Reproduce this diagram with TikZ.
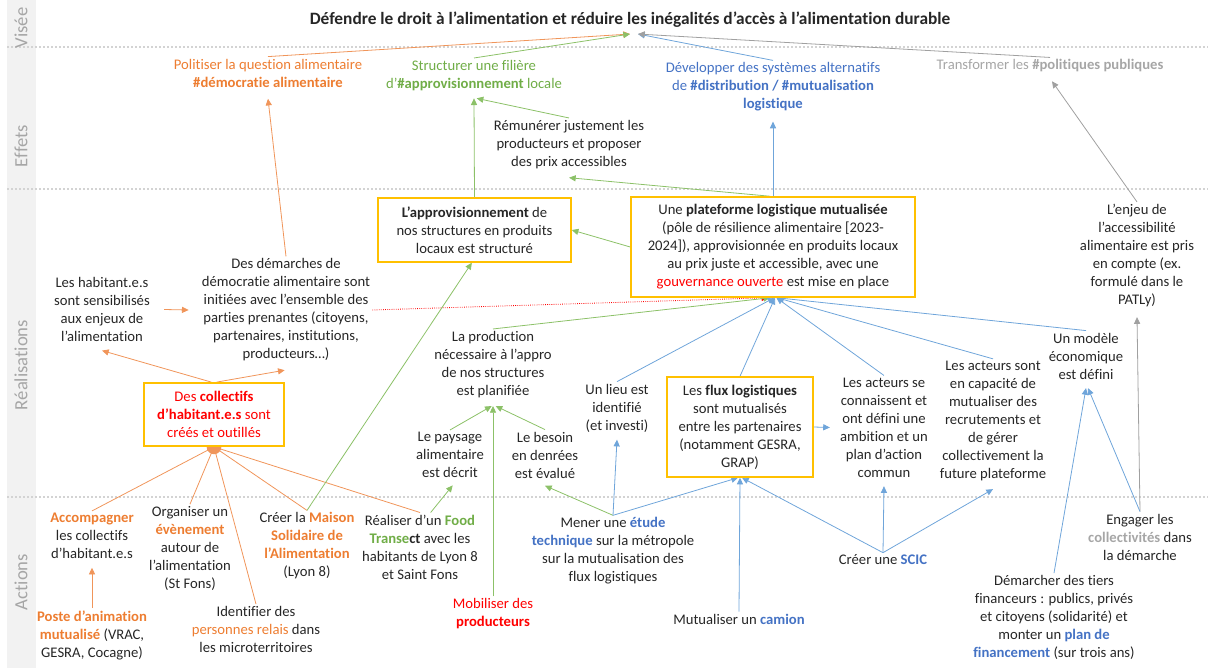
\documentclass[tikz,border=0pt]{standalone}
\usepackage{fontspec}
\setmainfont{Carlito}[Ligatures=NoCommon]
\usetikzlibrary{arrows.meta,calc}
\definecolor{ora}{HTML}{ED7D31}
\definecolor{oraL}{HTML}{F0955A}
\definecolor{grn}{HTML}{70AD47}
\definecolor{grnL}{HTML}{8CC168}
\definecolor{blu}{HTML}{4472C4}
\definecolor{bluL}{HTML}{6FA5DA}
\definecolor{gry}{HTML}{A6A6A6}
\definecolor{gryL}{HTML}{A0A0A0}
\definecolor{yel}{HTML}{FFC000}
\definecolor{txt}{HTML}{262626}
\definecolor{bandc}{HTML}{F2F2F2}
\definecolor{sepc}{HTML}{D3D3D3}
\pgfdeclarelayer{bg}
\pgfsetlayers{bg,main}
\tikzset{
 t/.style={align=center,font=\fontsize{11}{13.5}\selectfont,inner sep=1.5pt,text=txt},
 ybox/.style={t,draw=yel,line width=1.1pt,fill=white,inner sep=0pt},
 lbl/.style={rotate=90,font=\fontsize{14}{16}\selectfont,text=gry,inner sep=0pt},
 sepl/.style={draw=sepc,line width=1.3pt,dash pattern=on 1.4pt off 1.6pt},
 con/.style={line width=0.6pt,-{Triangle[length=5pt,width=4.6pt]}},
 co/.style={con,draw=oraL},
 cg/.style={con,draw=grnL},
 cb/.style={con,draw=bluL},
 cgy/.style={con,draw=gryL},
 cr/.style={con,draw=red,densely dotted},
 coline/.style={line width=0.6pt,draw=oraL},
}
\begin{document}
\begin{tikzpicture}[x=0.75pt,y=-0.75pt]
\useasboundingbox (0,0) rectangle (1208,671);

% ---------- nodes ----------
\node[t,font=\fontsize{13}{15.5}\selectfont\bfseries] (title) at (630,20) {Défendre le droit à l’alimentation et réduire les inégalités d’accès à l’alimentation durable};

\node[lbl] (lv) at (21,28) {Visée};
\node[lbl] (le) at (21,146) {Effets};
\node[lbl] (lr) at (21,365) {Réalisations};
\node[lbl] (la) at (21,582) {Actions};

% Effets
\node[t,text=ora] (pol) at (268,73) {Politiser la question alimentaire\\\textbf{\#démocratie alimentaire}};
\node[t,text=grn] (str) at (474,75.5) {Structurer une filière\\d’\textbf{\#approvisionnement} locale};
\node[t,text=blu] (dev) at (773,87) {Développer des systèmes alternatifs\\de \textbf{\#distribution / \#mutualisation}\\\textbf{logistique}};
\node[t,text=gry] (tra) at (1050,66) {Transformer les \textbf{\#politiques publiques}};
\node[t] (rem) at (569,144.5) {Rémunérer justement les\\producteurs et proposer\\des prix accessibles};

% Réalisations
\node[ybox,minimum width=144.75pt,minimum height=48pt] (app) at (474.5,230) {\textbf{L’approvisionnement} de\\nos structures en produits\\locaux est structuré};
\node[ybox,minimum width=213pt,minimum height=75pt] (plat) at (773,247) {Une \textbf{plateforme logistique mutualisée}\\(pôle de résilience alimentaire [2023-\\2024]), approvisionnée en produits locaux\\au prix juste et accessible, avec une\\\textcolor{red}{gouvernance ouverte} est mise en place};
\node[t] (enj) at (1137,255.5) {L’enjeu de\\l’accessibilité\\alimentaire est pris\\en compte (ex.\\formulé dans le\\PATLy)};
\node[t] (hab) at (102,309.5) {Les habitant.e.s\\sont sensibilisés\\aux enjeux de\\l’alimentation};
\node[t] (dem) at (286,310) {Des démarches de\\démocratie alimentaire sont\\initiées avec l’ensemble des\\parties prenantes (citoyens,\\partenaires, institutions,\\producteurs…)};
\node[t] (prod) at (493,364.5) {La production\\nécessaire à l’appro\\de nos structures\\est planifiée};
\node[t] (lieu) at (617,408) {Un lieu est\\identifié\\(et investi)};
\node[ybox,minimum width=109.5pt,minimum height=75pt] (flux) at (740,427) {Les \textbf{flux logistiques}\\sont mutualisés\\entre les partenaires\\(notamment GESRA,\\GRAP)};
\node[t] (act1) at (884,427.5) {Les acteurs se\\connaissent et\\ont défini une\\ambition et un\\plan d’action\\commun};
\node[t] (act2) at (993,421) {Les acteurs sont\\en capacité de\\mutualiser des\\recrutements et\\de gérer\\collectivement la\\future plateforme};
\node[t] (mod) at (1086,356) {Un modèle\\économique\\est défini};
\node[ybox,minimum width=105pt,minimum height=47.5pt,text=red] (coll) at (214,414.5) {Des \textbf{collectifs}\\\textbf{d’habitant.e.s} sont\\créés et outillés};
\node[t] (pay) at (450,455) {Le paysage\\alimentaire\\est décrit};
\node[t] (bes) at (545,455) {Le besoin\\en denrées\\est évalué};

% Actions
\node[t] (acc) at (92,536) {\textcolor{ora}{\textbf{Accompagner}}\\les collectifs\\d’habitant.e.s};
\node[t] (pos) at (92,635) {\textcolor{ora}{\textbf{Poste d’animation}}\\\textcolor{ora}{\textbf{mutualisé}} (VRAC,\\GESRA, Cocagne)};
\node[t] (org) at (190,548.5) {Organiser un\\\textcolor{ora}{\textbf{évènement}}\\autour de\\l’alimentation\\(St Fons)};
\node[t] (idt) at (256,629.5) {Identifier des\\\textcolor{ora}{personnes relais} dans\\les microterritoires};
\node[t] (mai) at (307,546) {Créer la \textcolor{ora}{\textbf{Maison}}\\\textcolor{ora}{\textbf{Solidaire de}}\\\textcolor{ora}{\textbf{l’Alimentation}}\\(Lyon 8)};
\node[t] (food) at (420,547) {Réaliser d’un \textcolor{grn}{\textbf{Food}}\\\textbf{\textcolor{grn}{Transe}ct} avec les\\habitants de Lyon 8\\et Saint Fons};
\node[t,text=red] (mob) at (493,614) {Mobiliser des\\\textbf{producteurs}};
\node[t] (men) at (613,551) {Mener une \textcolor{blu}{\textbf{étude}}\\\textcolor{blu}{\textbf{technique}} sur la métropole\\sur la mutualisation des\\flux logistiques};
\node[t] (cam) at (739,619) {Mutualiser un \textcolor{blu}{\textbf{camion}}};
\node[t] (scic) at (883,560) {Créer une \textcolor{blu}{\textbf{SCIC}}};
\node[t] (eng) at (1140,537) {Engager les\\\textcolor{gry}{\textbf{collectivités}} dans\\la démarche};
\node[t] (dmr) at (1054,617.5) {Démarcher des tiers\\financeurs : publics, privés\\et citoyens (solidarité) et\\monter un \textcolor{blu}{\textbf{plan de}}\\\textcolor{blu}{\textbf{financement}} (sur trois ans)};

% ---------- background: band, separators, connectors ----------
\begin{pgfonlayer}{bg}
\fill[bandc] (7,0) rectangle (36,668);
\draw[sepl] (7,47) -- (1208,47);
\draw[sepl] (7,189) -- (1208,189);
\draw[sepl] (7,497) -- (1208,497);

% to the title
\draw[co] (pol.north) -- ([yshift=-3pt]title.south);
\draw[cg] (str.north) -- ([yshift=-3pt]title.south);
\draw[cb] (dev.north) -- ([xshift=6pt,yshift=-3pt]title.south);
\draw[cgy] (tra.north) -- ([xshift=6pt,yshift=-3pt]title.south);

% effets
\draw[co] (dem.north) -- ([yshift=-7pt]pol.south);
\draw[cg] (app.north) -- ([yshift=-4pt]str.south);
\draw[cg] (rem.north) -- ([xshift=2pt,yshift=-4pt]str.south);
\draw[cg] ([xshift=-2pt]plat.north) -- ([yshift=-5pt]rem.south);
\draw[cb] (plat.north) -- ([yshift=-6pt]dev.south);
\draw[cgy] (enj.north) -- ([xshift=1.5pt,yshift=-5pt]tra.south);
\draw[cgy] ([xshift=0pt]eng.north) -- ([yshift=-6pt]enj.south);

% realisations
\draw[cg] (plat.west) -- (app.east);
\draw[cr] (dem.east) -- ([xshift=-3.5pt]plat.south);
\draw[co] ($(hab.east)+(12,0)$) -- ($(dem.west)+(-11,0)$);
\draw[cg] (prod.north) -- ([xshift=-2pt]plat.south);
\draw[cb] (lieu.north) -- ([xshift=1pt]plat.south);
\draw[cb] (flux.north) -- ([xshift=1.5pt]plat.south);
\draw[cb] (act1.north) -- ([xshift=2.5pt]plat.south);
\draw[cb] (act2.north) -- ([xshift=3pt]plat.south);
\draw[cb] (mod.north) -- ([xshift=3pt]plat.south);
\draw[co] ([xshift=-2pt]coll.north) -- ([yshift=-5pt]hab.south);
\draw[co] ([xshift=2pt]coll.north) -- ([xshift=-1pt,yshift=-5pt]dem.south);
\draw[cb] (flux.east) -- ([xshift=-6pt]act1.west);

% actions -> collectifs
\fill[oraL] (coll.south) circle[radius=5.5pt];
\draw[coline] (acc.north) -- (coll.south);
\draw[coline] (org.north) -- (coll.south);
\draw[coline] (idt.north) -- (coll.south);
\draw[coline] (mai.north) -- (coll.south);
\draw[coline] (food.north) -- (coll.south);
\draw[co] (pos.north) -- ([yshift=-5pt]acc.south);

% actions -> green
\draw[cg] (mai.north) -- ([xshift=-2pt]app.south);
\draw[cg] ([xshift=8pt]food.north) -- ([xshift=2pt,yshift=-4pt]pay.south);
\draw[cg] (pay.north) -- ([xshift=-1pt,yshift=-4.5pt]prod.south);
\draw[cg] (bes.north) -- ([xshift=2pt,yshift=-4.5pt]prod.south);
\draw[cg] (mob.north) -- ([yshift=-4.5pt]prod.south);
\draw[cg] (men.north) -- ([yshift=-4pt]bes.south);

% actions -> blue
\draw[cb] (men.north) -- ([yshift=-4pt]lieu.south);
\draw[cb] (men.north) -- ([xshift=-1.5pt]flux.south);
\draw[cb] (cam.north) -- (flux.south);
\draw[cb] (scic.north) -- ([xshift=1.5pt]flux.south);
\draw[cb] (scic.north) -- ([yshift=-5pt]act1.south);
\draw[cb] (scic.north) -- ([yshift=-4.5pt]act2.south);
\draw[cb] (dmr.north) -- ([yshift=-5pt]mod.south);
\draw[cb] (eng.north) -- ([xshift=1.5pt,yshift=-5pt]mod.south);
\end{pgfonlayer}
\end{tikzpicture}
\end{document}
